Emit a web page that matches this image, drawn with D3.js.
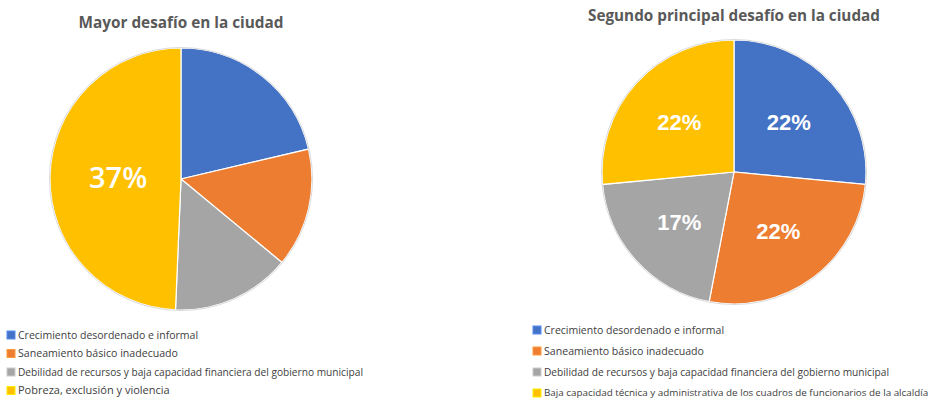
<!DOCTYPE html>
<html>
<head>
<meta charset="utf-8">
<script src="https://cdn.jsdelivr.net/npm/d3@7"></script>
<style>
  body { margin: 0; background: #fff; }
  svg { display: block; }
</style>
</head>
<body>
<div id="wrapper"></div>
<script>
/* the data */
const colors = ["#4472C4", "#ED7D31", "#A5A5A5", "#FFC000"];

const leftTitle = "Mayor desafío en la ciudad";
const leftCategories = [
  "Crecimiento desordenado e informal",
  "Saneamiento básico inadecuado",
  "Debilidad de recursos y baja capacidad financiera del gobierno municipal",
  "Pobreza, exclusión y violencia"
];
const leftValues = [16, 11, 11, 37];
const leftLabels = ["", "", "", "37%"];

const rightTitle = "Segundo principal desafío en la ciudad";
const rightCategories = [
  "Crecimiento desordenado e informal",
  "Saneamiento básico inadecuado",
  "Debilidad de recursos y baja capacidad financiera del gobierno municipal",
  "Baja capacidad técnica y administrativa de los cuadros de funcionarios de la alcaldía"
];
const rightValues = [22, 22, 17, 22];
const rightLabels = ["22%", "22%", "17%", "22%"];

/* canvas */
const dimensions = { width: 940, height: 404 };
const svg = d3.select("#wrapper")
  .append("svg")
    .attr("width", dimensions.width)
    .attr("height", dimensions.height);

// shrink a text's font until it is no wider than the width seen in the picture
function fitWidth(sel, base, target) {
  sel.style("font-size", base + "px");
  const w = sel.node().getComputedTextLength();
  if (w > target) sel.style("font-size", (base * target / w).toFixed(2) + "px");
}

function drawPie(opts) {
  const g = svg.append("g");

  // title
  const t = g.append("text")
    .attr("x", opts.cx)
    .attr("y", opts.titleY)
    .attr("text-anchor", "middle")
    .attr("fill", "#595959")
    .style("font-family", "'Open Sans', sans-serif")
    .style("font-weight", 700)
    .text(opts.title);
  fitWidth(t, 17, opts.titleWidth);

  const pie = d3.pie().sort(null).value(d => d.value);
  const arcs = pie(opts.values.map((v, i) => ({ value: v, i: i })));
  const arc = d3.arc().innerRadius(0).outerRadius(opts.r);
  const labelArc = d3.arc().innerRadius(opts.r * opts.labelK).outerRadius(opts.r * opts.labelK);

  const pieG = g.append("g")
    .attr("transform", `translate(${opts.cx},${opts.cy})`);

  pieG.selectAll("path")
    .data(arcs)
    .join("path")
      .attr("d", arc)
      .attr("fill", d => colors[d.data.i])
      .attr("stroke", "#fff")
      .attr("stroke-width", 1.2);

  pieG.append("circle")
    .attr("r", opts.r + 0.5)
    .attr("fill", "none")
    .attr("stroke", "#d0d0d0")
    .attr("stroke-width", 0.8);

  pieG.selectAll("text.lbl")
    .data(arcs)
    .join("text")
      .attr("class", "lbl")
      .attr("transform", d => `translate(${labelArc.centroid(d)})`)
      .attr("text-anchor", "middle")
      .attr("dy", "0.36em")
      .attr("fill", "#fff")
      .style("font-family", opts.labelFont)
      .style("font-weight", opts.labelWeight)
      .style("font-size", opts.labelSize + "px")
      .text(d => opts.labels[d.data.i]);

  // legend
  const leg = g.append("g");
  opts.categories.forEach((c, i) => {
    const y = opts.legY + i * opts.legStep;
    leg.append("rect")
      .attr("x", opts.legX)
      .attr("y", y - 4)
      .attr("width", 8)
      .attr("height", 8)
      .attr("fill", colors[i])
      .attr("stroke", d3.color(colors[i]).brighter(0.6))
      .attr("stroke-width", 1);
    const lt = leg.append("text")
      .attr("x", opts.legX + 11)
      .attr("y", y)
      .attr("dy", "0.35em")
      .attr("fill", "#404040")
      .style("font-family", "'Open Sans', sans-serif")
      .text(c);
    fitWidth(lt, 11, opts.legWidths[i]);
  });
}

drawPie({
  title: leftTitle, titleY: 28, titleWidth: 205,
  cx: 181, cy: 179, r: 131,
  values: leftValues, labels: leftLabels, labelK: 0.48,
  labelFont: "'Open Sans', sans-serif", labelWeight: 600, labelSize: 29,
  categories: leftCategories,
  legX: 7, legY: 335, legStep: 18.5,
  legWidths: [180, 160, 345, 165]
});

drawPie({
  title: rightTitle, titleY: 21, titleWidth: 292,
  cx: 734, cy: 172, r: 132,
  values: rightValues, labels: rightLabels, labelK: 0.56,
  labelFont: "'Liberation Sans', Arial, sans-serif", labelWeight: 700, labelSize: 22,
  categories: rightCategories,
  legX: 533, legY: 330, legStep: 21,
  legWidths: [180, 160, 345, 385]
});
</script>
</body>
</html>
